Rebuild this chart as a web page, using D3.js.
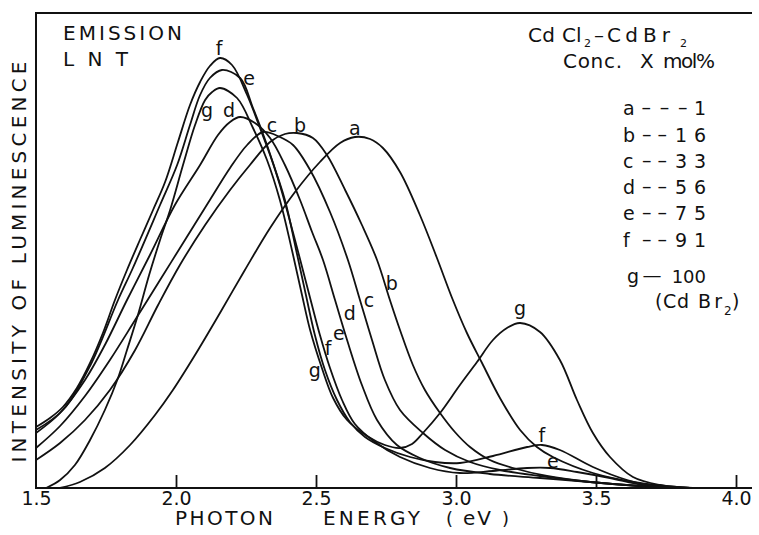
<!DOCTYPE html>
<html><head><meta charset="utf-8">
<script src="https://cdn.jsdelivr.net/npm/d3@7"></script>
<style>
body{margin:0;background:#fff}
svg{display:block}
text{font-family:"DejaVu Sans",sans-serif;fill:#111}
</style>
</head><body>
<svg id="chart" width="759" height="535"></svg>
<script>
// ---- data: [photon energy (eV), intensity (arb. units)] ----
const seriesA = [[1.586,0],[1.657,6],[1.746,20],[1.836,43],[1.925,73],[1.989,98],[2.068,133],[2.157,175],[2.246,218],[2.336,260],[2.425,296],[2.514,326],[2.586,345],[2.639,351],[2.693,349],[2.739,340],[2.800,316],[2.871,273],[2.932,230],[2.986,190],[3.039,155],[3.093,125],[3.157,90],[3.229,58],[3.289,41],[3.346,31],[3.489,15],[3.657,5],[3.836,0]];
const seriesB = [[1.500,28],[1.586,45],[1.675,68],[1.764,98],[1.854,138],[1.936,183],[2.014,223],[2.104,263],[2.193,298],[2.264,323],[2.336,346],[2.389,354],[2.432,355],[2.489,350],[2.539,333],[2.604,298],[2.664,263],[2.718,228],[2.764,188],[2.800,158],[2.846,123],[2.889,98],[2.943,75],[2.996,56],[3.050,41],[3.121,28],[3.204,20],[3.325,12],[3.479,6],[3.657,2],[3.836,0]];
const seriesC = [[1.500,40],[1.586,62],[1.675,92],[1.764,128],[1.854,168],[1.943,208],[2.032,248],[2.121,288],[2.193,320],[2.254,343],[2.311,356],[2.371,351],[2.418,343],[2.479,318],[2.550,276],[2.614,228],[2.657,188],[2.700,148],[2.746,108],[2.800,78],[2.882,55],[2.961,38],[3.050,26],[3.157,18],[3.300,12],[3.479,6],[3.657,2],[3.836,0]];
const seriesD = [[1.500,55],[1.586,75],[1.675,108],[1.746,143],[1.825,188],[1.907,233],[1.996,283],[2.086,323],[2.150,353],[2.193,366],[2.229,371],[2.282,365],[2.336,350],[2.389,323],[2.443,288],[2.486,256],[2.525,228],[2.568,188],[2.611,148],[2.664,103],[2.718,68],[2.789,43],[2.871,30],[2.979,20],[3.121,14],[3.300,10],[3.479,6],[3.657,2],[3.836,0]];
const seriesE = [[1.500,58],[1.596,78],[1.693,122],[1.793,188],[1.846,220],[1.943,283],[2.004,323],[2.050,363],[2.086,393],[2.121,410],[2.164,418],[2.229,410],[2.275,380],[2.325,343],[2.371,303],[2.425,248],[2.479,190],[2.514,153],[2.550,120],[2.593,88],[2.639,64],[2.711,46],[2.800,31],[2.907,20],[3.014,15],[3.132,17],[3.254,20],[3.336,20],[3.432,16],[3.550,10],[3.668,3],[3.800,0]];
const seriesF = [[1.500,61],[1.550,70],[1.596,81],[1.646,100],[1.693,125],[1.739,155],[1.782,188],[1.825,218],[1.871,248],[1.918,278],[1.961,306],[2.007,346],[2.050,383],[2.086,406],[2.121,422],[2.157,430],[2.200,423],[2.254,393],[2.300,360],[2.336,333],[2.389,288],[2.429,238],[2.464,193],[2.496,153],[2.532,118],[2.575,88],[2.621,66],[2.675,51],[2.746,40],[2.836,31],[2.925,26],[3.014,25],[3.132,32],[3.254,41],[3.307,43],[3.371,38],[3.489,21],[3.611,8],[3.729,1],[3.871,0]];
const seriesG = [[1.536,0],[1.586,8],[1.639,23],[1.693,48],[1.746,78],[1.793,110],[1.825,138],[1.864,173],[1.904,213],[1.943,248],[1.979,278],[2.025,323],[2.068,363],[2.104,388],[2.129,396],[2.157,400],[2.218,390],[2.275,360],[2.325,328],[2.371,288],[2.414,238],[2.450,193],[2.479,158],[2.521,120],[2.561,90],[2.611,68],[2.682,52],[2.746,43],[2.800,40],[2.843,44],[2.882,55],[2.943,75],[3.014,103],[3.075,126],[3.132,148],[3.182,160],[3.229,165],[3.300,156],[3.371,128],[3.432,88],[3.489,55],[3.550,31],[3.632,11],[3.729,3],[3.846,0]];

const curveNames = ["a","b","c","d","e","f","g"];
const concentrations = [1,16,33,56,75,91,100];
const xTickValues = [1.5,2.0,2.5,3.0,3.5,4.0];
// curve annotations: [letter, energy, intensity]
const topLabels = [["f",2.154,440],["e",2.261,410],["g",2.111,378],["d",2.189,378],["c",2.343,363],["b",2.443,363],["a",2.639,360]];
const tailLabels = [["g",2.496,118],["f",2.543,140],["e",2.582,155],["d",2.621,175],["c",2.689,188],["b",2.771,205]];
const bumpLabels = [["g",3.229,180],["f",3.307,53],["e",3.346,27]];

const allSeries = [seriesA,seriesB,seriesC,seriesD,seriesE,seriesF,seriesG];

// ---- drawing ----
const svg = d3.select("#chart");
const plot = {left:36, right:736, top:13, bottom:488, frameRight:752};
const x = d3.scaleLinear().domain([1.5,4.0]).range([plot.left, plot.right]);
const y = d3.scaleLinear().domain([0,475]).range([plot.bottom, plot.top]);

svg.append("defs").append("clipPath").attr("id","clip")
  .append("rect").attr("x",plot.left).attr("y",plot.top)
  .attr("width",plot.frameRight-plot.left).attr("height",plot.bottom-plot.top);

// frame (left, top, bottom)
svg.append("path").attr("stroke","#111").attr("stroke-width",2).attr("fill","none")
  .attr("d",`M${plot.frameRight},${plot.top}H${plot.left}V${plot.bottom}H${plot.frameRight}`);

// axis
const axis = svg.append("g").attr("transform",`translate(0,${plot.bottom})`)
  .call(d3.axisBottom(x).tickValues(xTickValues).tickSize(-13).tickPadding(3).tickFormat(d3.format(".1f")));
axis.select(".domain").remove();
axis.selectAll(".tick line").attr("stroke","#111").attr("stroke-width",1.8);
axis.selectAll(".tick").filter(d=>d===1.5).select("line").remove();
axis.selectAll(".tick text").attr("font-family","DejaVu Sans, sans-serif").attr("font-size",19).attr("fill","#111");

// curves
const line = d3.line().x(d=>x(d[0])).y(d=>y(d[1])).curve(d3.curveCatmullRom.alpha(0.5));
svg.append("g").attr("clip-path","url(#clip)")
  .selectAll("path").data(allSeries).join("path")
  .attr("d",line).attr("fill","none").attr("stroke","#111").attr("stroke-width",1.8)
  .attr("stroke-linejoin","round");

// curve letters
const lbl = svg.append("g").attr("font-size",19).attr("text-anchor","middle");
lbl.selectAll("text").data(topLabels.concat(tailLabels,bumpLabels)).join("text")
  .attr("x",d=>x(d[1])).attr("y",d=>y(d[2])).attr("dominant-baseline","central").text(d=>d[0]);

// axis titles
svg.append("text").attr("transform","translate(19,262) rotate(-90)")
  .attr("text-anchor","middle").attr("dominant-baseline","central")
  .attr("font-size",20).attr("textLength",401).attr("lengthAdjust","spacing")
  .text("INTENSITY OF LUMINESCENCE");
const xt = svg.append("g").attr("font-size",20);
xt.append("text").attr("x",175).attr("y",525).attr("textLength",98).attr("lengthAdjust","spacing").text("PHOTON");
xt.append("text").attr("x",323).attr("y",525).attr("textLength",97).attr("lengthAdjust","spacing").text("ENERGY");
xt.append("text").attr("x",446).attr("y",525).attr("font-size",18).text("(");
xt.append("text").attr("x",463).attr("y",525).attr("textLength",28).attr("lengthAdjust","spacing").text("eV");
xt.append("text").attr("x",502).attr("y",525).attr("font-size",18).text(")");

// top-left notes
svg.append("text").attr("x",63).attr("y",40).attr("font-size",20).attr("textLength",119).attr("lengthAdjust","spacing").text("EMISSION");
svg.append("text").attr("x",63).attr("y",66).attr("font-size",20).attr("textLength",65).attr("lengthAdjust","spacing").text("L N T");

// top-right notes (pieces placed individually)
function piece(g, str, px, py, size, len){
  const t = g.append("text").attr("x",px).attr("y",py).attr("font-size",size).text(str);
  if(len) t.attr("textLength",len).attr("lengthAdjust","spacing");
  return t;
}
const tr = svg.append("g");
piece(tr,"Cd",528,42,20,27);
piece(tr,"Cl",562,42,20,0);
piece(tr,"2",584,46.5,11,0);
piece(tr,"–",594,42,20,0);
piece(tr,"Cd",607,42,20,31);
piece(tr,"Br",643,42,20,27);
piece(tr,"2",680,46.5,11,0);
piece(tr,"Conc.",563,68,20,59);
piece(tr,"X",640,68,20,0);
piece(tr,"mol%",663,68,20,52);

// legend
const legendBase = [115,142,168,194,220,247,283];
const dashSpan = [0,[637,692],[639,670],[641,663]];
const lg = svg.append("g").attr("font-size",19);
curveNames.forEach((n,i)=>{
  const num = String(concentrations[i]);
  const k = num.length;
  const nd = 4-k;
  const left = i===6 ? 627 : 623;
  lg.append("text").attr("x",left).attr("y",legendBase[i]).text(n);
  const [s,e] = dashSpan[k];
  d3.range(nd).forEach(j=>{
    lg.append("text").attr("x", s + (j+0.5)*(e-s)/nd).attr("y",legendBase[i]-1)
      .attr("text-anchor","middle").text(nd===1 ? "—" : "–");
  });
  const t = lg.append("text").attr("x",706).attr("y",legendBase[i]).attr("text-anchor","end").text(num);
  if(k===2) t.attr("textLength",31).attr("lengthAdjust","spacing");
  if(k===3) t.attr("font-size",18);
});
piece(lg,"(",655,308,19,0);
piece(lg,"Cd",663,308,19,26);
piece(lg,"Br",698,308,19,24);
piece(lg,"2",724,315,12,0);
piece(lg,")",732,308,19,0);
</script>
</body></html>
